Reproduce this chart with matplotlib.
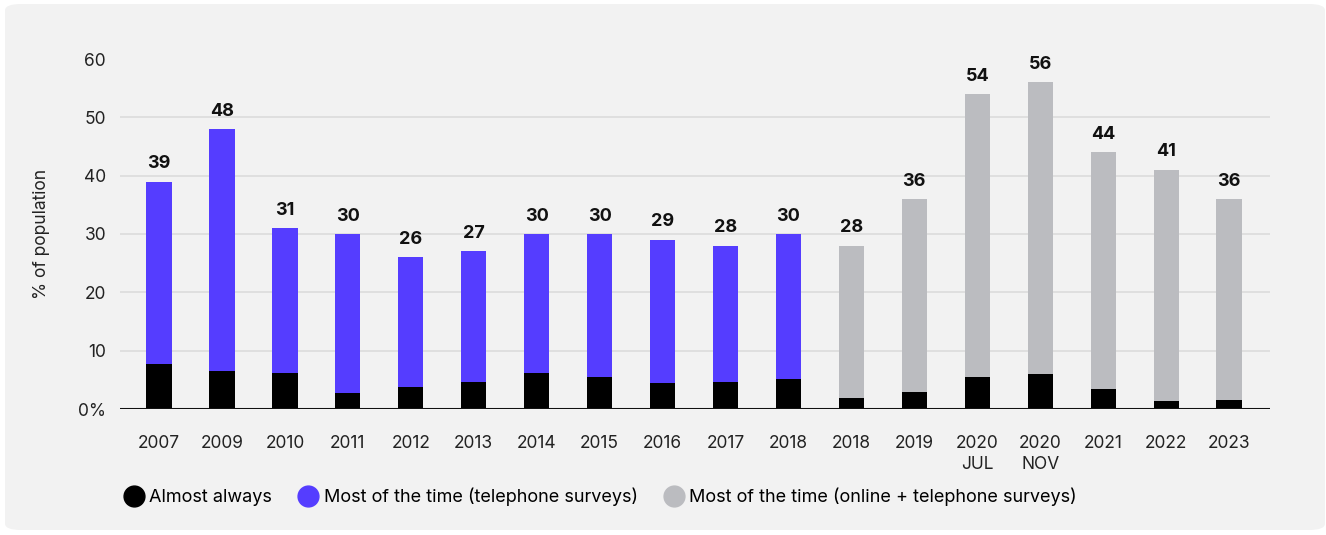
import matplotlib
matplotlib.use("Agg")
import matplotlib.pyplot as plt
from matplotlib.patches import FancyBboxPatch
from matplotlib.lines import Line2D
import numpy as np

plt.rcParams['font.family'] = ['Inter', 'DejaVu Sans']

categories = ["2007", "2009", "2010", "2011", "2012", "2013", "2014", "2015", "2016",
              "2017", "2018", "2018", "2019", "2020\nJUL", "2020\nNOV", "2021", "2022", "2023"]
totals = [39, 48, 31, 30, 26, 27, 30, 30, 29, 28, 30, 28, 36, 54, 56, 44, 41, 36]
almost_always = [7.7, 6.5, 6.2, 2.8, 3.8, 4.6, 6.2, 5.5, 4.5, 4.6, 5.1,
                 1.9, 2.9, 5.5, 6.0, 3.4, 1.4, 1.5]
telephone_only = [True] * 11 + [False] * 7
y_ticks = [0, 10, 20, 30, 40, 50, 60]
y_tick_labels = ["0%", "10", "20", "30", "40", "50", "60"]

BLACK = "#000000"
BLUE = "#553dff"
GREY = "#bbbcc0"
PANEL = "#f2f2f2"

W, H = 1326, 535
fig = plt.figure(figsize=(W / 100, H / 100), dpi=100)
fig.patch.set_facecolor("white")
panel = FancyBboxPatch((5 / W, 5 / H), 1320 / W, 526 / H,
                       boxstyle="round,pad=0,rounding_size=0.012",
                       transform=fig.transFigure, facecolor=PANEL,
                       edgecolor="none", zorder=-10)
fig.patches.append(panel)

ax = fig.add_axes([120 / W, 1 - 409 / H, 1150 / W, 350 / H])
ax.set_facecolor("none")

x = np.arange(len(categories))
rest = [t - a for t, a in zip(totals, almost_always)]
top_colors = [BLUE if t else GREY for t in telephone_only]

ax.bar(x, almost_always, width=0.4, color=BLACK, zorder=3)
ax.bar(x, rest, bottom=almost_always, width=0.4, color=top_colors, zorder=3)

for xi, t in zip(x, totals):
    ax.text(xi, t + 1.6, f"{t}", ha="center", va="bottom",
            fontsize=13, fontweight="bold", color="#111111")

ax.set_xlim(-0.62, len(categories) - 0.35)
ax.set_ylim(0, 60)
for v in y_ticks[1:-1]:
    ax.axhline(v, color="#dcdcdc", lw=1.2, zorder=1)
ax.axhline(0, color="#111111", lw=2.2, zorder=4)

ax.set_yticks(y_ticks)
ax.set_yticklabels(y_tick_labels, fontsize=12.5, color="#222222")
ax.set_xticks(x)
ax.set_xticklabels(categories, fontsize=12.5, color="#222222", linespacing=1.3)
ax.tick_params(axis="both", length=0)
ax.tick_params(axis="x", pad=19)
ax.tick_params(axis="y", pad=10)
for s in ax.spines.values():
    s.set_visible(False)

ax.set_ylabel("% of population", fontsize=12.5, color="#222222", labelpad=20)

handles = [
    Line2D([], [], marker="o", ls="none", markersize=15, color=BLACK),
    Line2D([], [], marker="o", ls="none", markersize=15, color=BLUE),
    Line2D([], [], marker="o", ls="none", markersize=15, color=GREY),
]
labels = ["Almost always", "Most of the time (telephone surveys)",
          "Most of the time (online + telephone surveys)"]
fig.legend(handles, labels, loc="center left", bbox_to_anchor=(125 / W, 1 - 497 / H),
           ncol=3, frameon=False, fontsize=13, handletextpad=0.35,
           columnspacing=1.5, handlelength=1.0, borderaxespad=0, borderpad=0)

fig.savefig("out.png", dpi=100, facecolor=fig.get_facecolor())
